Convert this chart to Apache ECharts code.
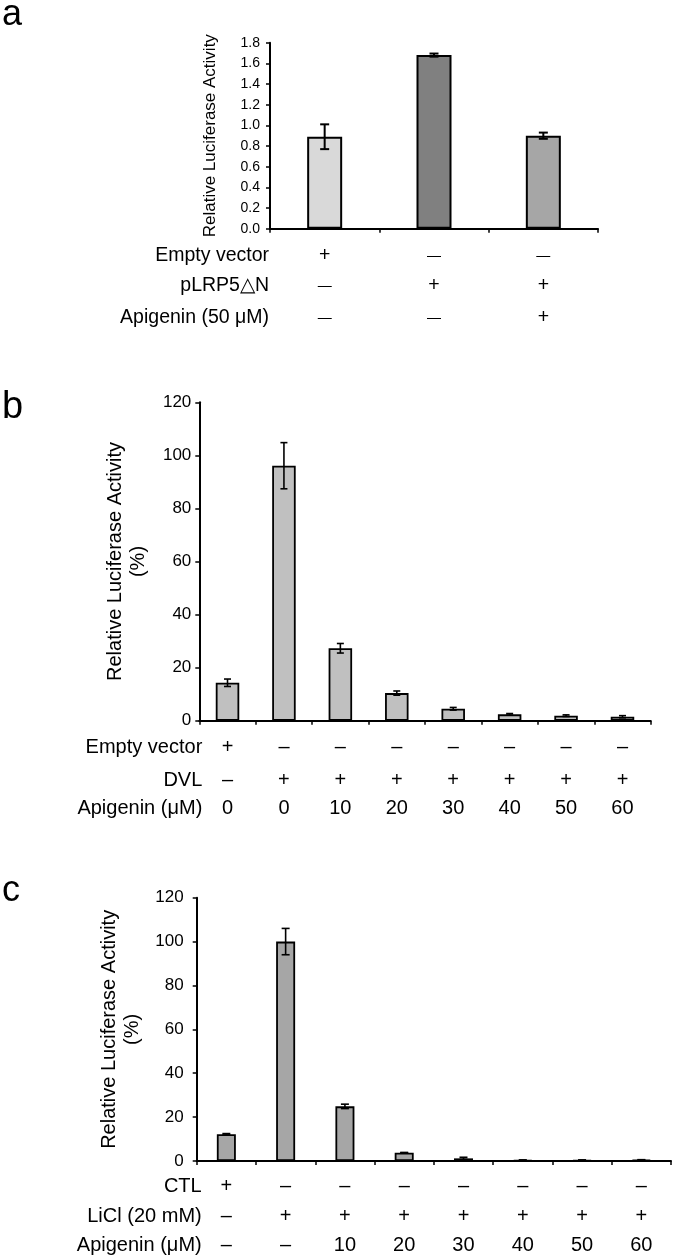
<!DOCTYPE html>
<html>
<head>
<meta charset="utf-8">
<script src="https://cdn.jsdelivr.net/npm/echarts@6/dist/echarts.min.js"></script>
<style>
html,body{margin:0;padding:0;background:#fff;}
#chart{width:675px;height:1260px;}
</style>
</head>
<body>
<div id="chart"></div>
<script>
// ---------- Panel a ----------
const aRowLabels = ['Empty vector', 'pLRP5\u25B3N', 'Apigenin (50 \u03BCM)'];
const aRows = [
  ['+', '\u2014', '\u2014'],
  ['\u2014', '+', '+'],
  ['\u2014', '\u2014', '+']
];
const aValues = [0.89, 1.68, 0.90];
const aErrors = [0.12, 0.015, 0.03];
const aColors = ['#d9d9d9', '#808080', '#a6a6a6'];

// ---------- Panel b ----------
const bRowLabels = ['Empty vector', 'DVL', 'Apigenin (\u03BCM)'];
const bRows = [
  ['+', '\u2013', '\u2013', '\u2013', '\u2013', '\u2013', '\u2013', '\u2013'],
  ['\u2013', '+', '+', '+', '+', '+', '+', '+'],
  ['0', '0', '10', '20', '30', '40', '50', '60']
];
const bValues = [14.3, 96.1, 27.3, 10.4, 4.5, 2.4, 1.9, 1.5];
const bErrors = [1.4, 8.7, 1.8, 0.8, 0.5, 0.3, 0.3, 0.4];

// ---------- Panel c ----------
const cRowLabels = ['CTL', 'LiCl (20 mM)', 'Apigenin (\u03BCM)'];
const cRows = [
  ['+', '\u2013', '\u2013', '\u2013', '\u2013', '\u2013', '\u2013', '\u2013'],
  ['\u2013', '+', '+', '+', '+', '+', '+', '+'],
  ['\u2013', '\u2013', '10', '20', '30', '40', '50', '60']
];
const cValues = [12.2, 100, 24.9, 3.8, 1.2, 0.4, 0.4, 0.5];
const cErrors = [0.3, 6, 1.0, 0.1, 0.5, 0.1, 0.1, 0.1];

const FONT = '"Liberation Sans", Arial, Helvetica, sans-serif';

const chart = echarts.init(document.getElementById('chart'), null, {renderer: 'canvas'});

function errSeries(values, errors, xIdx, yIdx, capHalf, lw) {
  return {
    type: 'custom',
    xAxisIndex: xIdx,
    yAxisIndex: yIdx,
    z: 10,
    silent: true,
    encode: {x: 0, y: [1, 2]},
    data: values.map((v, i) => [i, v - errors[i], v + errors[i]]),
    renderItem: function (params, api) {
      const x = api.value(0);
      const top = api.coord([x, api.value(2)]);
      const bot = api.coord([x, api.value(1)]);
      const st = {stroke: '#000', lineWidth: lw};
      return {
        type: 'group',
        children: [
          {type: 'line', shape: {x1: top[0], y1: top[1], x2: bot[0], y2: bot[1]}, style: st},
          {type: 'line', shape: {x1: top[0] - capHalf, y1: top[1], x2: top[0] + capHalf, y2: top[1]}, style: st},
          {type: 'line', shape: {x1: bot[0] - capHalf, y1: bot[1], x2: bot[0] + capHalf, y2: bot[1]}, style: st}
        ]
      };
    }
  };
}

const grids = [
  {left: 270, top: 42.7, width: 328, height: 186},
  {left: 199.3, top: 402.3, width: 451.4, height: 318.4},
  {left: 196.7, top: 897.7, width: 474.3, height: 263.3}
];

const xAxes = [];
const yAxes = [];
const series = [];

function addPanel(gi, rowLabels, rows, offsets, rowFont, dashFont, nameGap, yMax, yInt, yFmt, yFont, yMargin, yName, yNameFont, yNameGap, yNameLH) {
  const cats = rows[0].map((_, i) => 'c' + i);
  const baseIdx = xAxes.length;
  xAxes.push({
    type: 'category', gridIndex: gi, data: cats, position: 'bottom',
    axisLine: {lineStyle: {color: '#000', width: 2}},
    axisTick: {show: true, length: 4, lineStyle: {color: '#000', width: 1.5}},
    axisLabel: {show: false},
    splitLine: {show: false}
  });
  rows.forEach((row, r) => {
    xAxes.push({
      type: 'category', gridIndex: gi, data: row, position: 'bottom',
      offset: offsets[r],
      axisLine: {show: false}, axisTick: {show: false},
      axisLabel: {show: true, margin: 0, verticalAlign: 'middle', interval: 0,
        color: '#000', fontFamily: FONT, fontSize: rowFont,
        formatter: v => (v === '\u2014' ? '{d|' + v + '}' : v),
        rich: {d: {fontSize: dashFont, fontFamily: FONT, color: '#000'}}},
      name: rowLabels[r], nameLocation: 'start', nameGap: nameGap,
      nameTextStyle: {color: '#000', fontFamily: FONT, fontSize: rowFont, align: 'right', verticalAlign: 'middle'}
    });
  });
  yAxes.push({
    type: 'value', gridIndex: gi, min: 0, max: yMax, interval: yInt,
    axisLine: {show: true, lineStyle: {color: '#000', width: 2}},
    axisTick: {show: true, length: 4, lineStyle: {color: '#000', width: 1.5}},
    axisLabel: {color: '#000', fontFamily: FONT, fontSize: yFont, margin: yMargin, formatter: yFmt},
    splitLine: {show: false},
    name: yName, nameLocation: 'middle', nameRotate: 90, nameGap: yNameGap,
    nameTextStyle: {color: '#000', fontFamily: FONT, fontSize: yNameFont, lineHeight: yNameLH}
  });
  return baseIdx;
}

// Panel a
const ax = addPanel(0, aRowLabels, aRows, [27, 57, 89.3], 19.5, 14, 1, 1.8, 0.2,
  v => v.toFixed(1), 14, 10, 'Relative Luciferase Activity', 17, 50, 20);
series.push({
  type: 'bar', xAxisIndex: ax, yAxisIndex: 0, barWidth: 35,
  data: aValues.map((v, i) => ({value: v, itemStyle: {color: aColors[i]}})),
  itemStyle: {borderColor: '#000', borderWidth: 2}
});
series.push(errSeries(aValues, aErrors, ax, 0, 4.5, 2));

// Panel b
const bx = addPanel(1, bRowLabels, bRows, [27, 59.3, 87.6], 20, 20, -3, 120, 20,
  v => String(v), 17, 8, 'Relative Luciferase Activity\n(%)', 20, 49, 23);
series.push({
  type: 'bar', xAxisIndex: bx, yAxisIndex: 1, barWidth: 23.5,
  data: bValues,
  itemStyle: {color: '#c0c0c0', borderColor: '#000', borderWidth: 1.8}
});
series.push(errSeries(bValues, bErrors, bx, 1, 3.5, 1.6));

// Panel c
const cx = addPanel(2, cRowLabels, cRows, [25.7, 55.7, 84], 20, 20, -5, 120, 20,
  v => String(v), 17, 13, 'Relative Luciferase Activity\n(%)', 20, 49, 23);
series.push({
  type: 'bar', xAxisIndex: cx, yAxisIndex: 2, barWidth: 19,
  data: cValues,
  itemStyle: {color: '#a6a6a6', borderColor: '#000', borderWidth: 1.8}
});
series.push(errSeries(cValues, cErrors, cx, 2, 4, 1.6));

chart.setOption({
  backgroundColor: '#fff',
  animation: false,
  grid: grids,
  xAxis: xAxes,
  yAxis: yAxes,
  series: series,
  graphic: [
    {type: 'text', left: 2, top: -3, style: {text: 'a', fill: '#000', font: '36px ' + FONT}},
    {type: 'text', left: 2, top: 389, style: {text: 'b', fill: '#000', font: '38px ' + FONT}},
    {type: 'text', left: 2, top: 873, style: {text: 'c', fill: '#000', font: '36px ' + FONT}}
  ]
});
</script>
</body>
</html>
